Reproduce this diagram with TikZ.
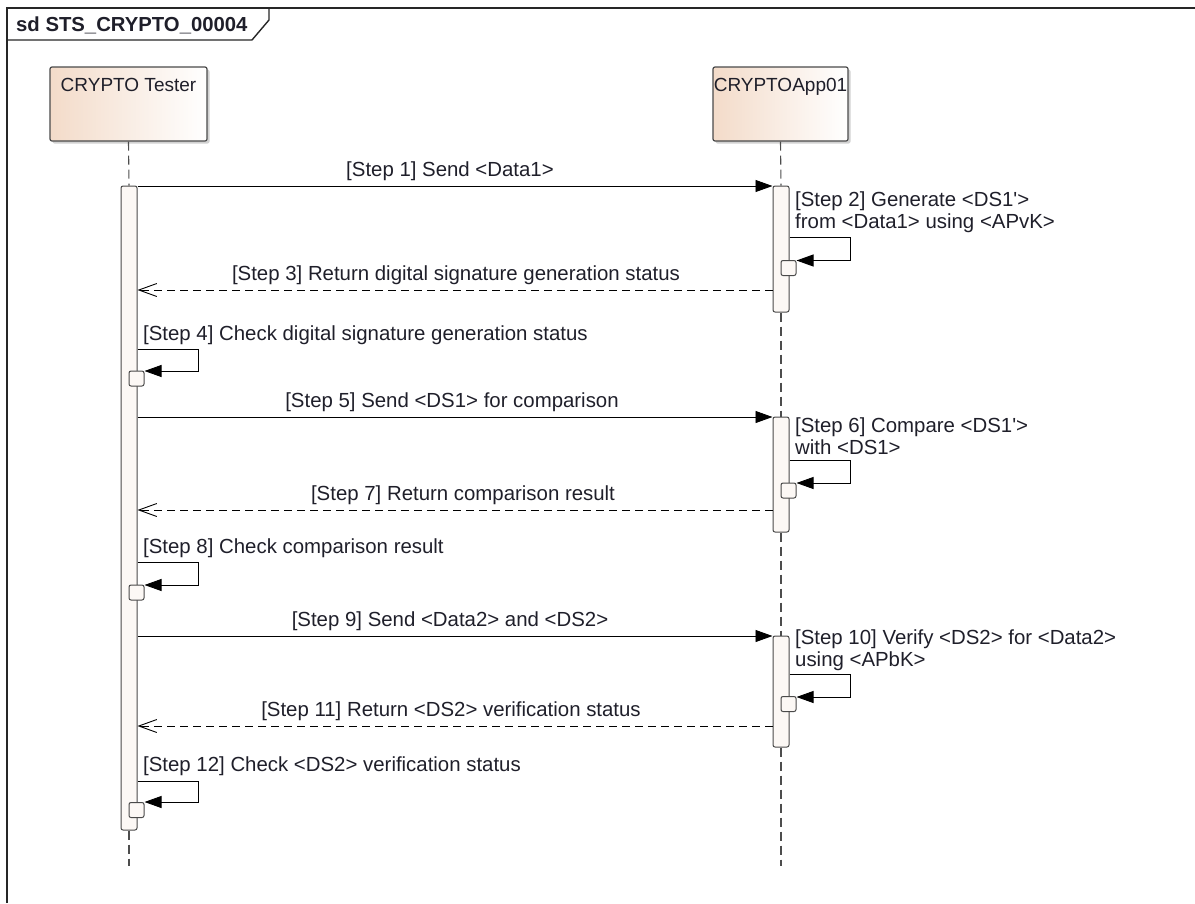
\documentclass[tikz,border=0pt]{standalone}
\usepackage{fontspec}
\setmainfont[Ligatures=TeXOff]{Liberation Sans}
\usetikzlibrary{arrows.meta,shadows,calc}
\definecolor{ink}{HTML}{1F1F2A}
\definecolor{peach}{HTML}{F3DBC9}
\definecolor{barfill}{HTML}{FCF8F5}
\definecolor{edge}{HTML}{4A4A4A}
\definecolor{lifegray}{HTML}{4D4D4D}
\begin{document}
\begin{tikzpicture}[x=1pt,y=-1pt,
  txt/.style={font=\fontsize{20.4}{22}\selectfont, text=ink, inner sep=0pt},
  headtxt/.style={font=\fontsize{19}{22}\selectfont, text=ink, inner sep=0pt},
  head/.style={draw=edge, line width=1.2pt, rounded corners=2pt, left color=peach, right color=white,
    minimum height=74pt, inner sep=0pt,
    drop shadow={shadow xshift=2.5pt, shadow yshift=-2.5pt, fill=black!40, opacity=0.45}},
  actbar/.style={draw=edge, line width=1pt, fill=barfill, rounded corners=2pt, minimum width=16pt, inner sep=0pt},
  smallbox/.style={draw=edge, line width=1pt, fill=barfill, rounded corners=2pt, minimum width=15pt, minimum height=15pt, inner sep=0pt},
  life/.style={draw=lifegray, line width=1.1pt, dash pattern=on 9pt off 5pt},
  msg/.style={draw=black, line width=0.9pt, -{Triangle[length=17pt,width=12pt]}},
  ret/.style={draw=black, line width=0.9pt, dash pattern=on 8pt off 5pt, -{Straight Barb[length=18pt,width=13pt,line width=0.9pt]}},
  selfmsg/.style={draw=black, line width=0.9pt, -{Triangle[length=17pt,width=12pt]}},
  frameline/.style={draw=black!85, line width=1.4pt}
]
\useasboundingbox (0,0) rectangle (1195,903);

% frame
\draw[frameline] (7,903) -- (7,8) -- (1195,8);
\draw[frameline] (7,40) -- (252,40) -- (269,20) -- (269,8);
\node[txt, font=\fontsize{20.3}{22}\selectfont\bfseries, anchor=base west] (title) at (16,31) {sd STS\_CRYPTO\_00004};

% lifeline heads
\node[head, minimum width=157pt] (tester) at (128.5,104) {};
\node[headtxt, anchor=base] (testername) at (tester.north |- 0,91) {CRYPTO Tester};
\node[head, minimum width=135pt] (app) at (780.5,104) {};
\node[headtxt, anchor=base] (appname) at (app.north |- 0,91) {CRYPTOApp01};

% activation bars
\node[actbar, minimum height=644pt] (tbar) at (129,508) {};
\node[actbar, minimum height=126pt] (a1) at (781,249) {};
\node[actbar, minimum height=115pt] (a2) at (781,474.5) {};
\node[actbar, minimum height=111pt] (a3) at (781,691.5) {};

% lifelines
\coordinate (tend) at (129,866);
\coordinate (aend) at (781,866);
\draw[life] (tester.south) -- (tbar.north);
\draw[life] (tbar.south) -- (tend);
\draw[life] (app.south) -- (a1.north);
\draw[life] (a1.south) -- (a2.north);
\draw[life] (a2.south) -- (a3.north);
\draw[life] (a3.south) -- (aend);

% small execution boxes
\node[smallbox] (s2) at (788.5,268) {};
\node[smallbox] (s4) at (136.5,378.5) {};
\node[smallbox] (s6) at (788.5,490.5) {};
\node[smallbox] (s8) at (136.5,592.5) {};
\node[smallbox] (s10) at (788.5,704) {};
\node[smallbox] (s12) at (136.5,810) {};

% Step 1
\draw[msg] (tbar.east |- 0,186) -- (a1.west |- 0,186);
\node[txt, anchor=base] (l1) at (450,176) {[Step 1] Send <Data1>};
% Step 2
\draw[selfmsg] (a1.east |- 0,237.5) -- (850,237.5) -- (850,260.5) -- (s2.east |- 0,260.5);
\node[txt, anchor=base west, align=left] (l2) at (795,228) {[Step 2] Generate <DS1'>\\from <Data1> using <APvK>};
% Step 3
\draw[ret] (a1.west |- 0,290) -- (tbar.east |- 0,290);
\node[txt, anchor=base] (l3) at (456,280) {[Step 3] Return digital signature generation status};
% Step 4
\draw[selfmsg] (tbar.east |- 0,349) -- (198,349) -- (198,371) -- (s4.east |- 0,371);
\node[txt, anchor=base west] (l4) at (143,340) {[Step 4] Check digital signature generation status};
% Step 5
\draw[msg] (tbar.east |- 0,417) -- (a2.west |- 0,417);
\node[txt, anchor=base] (l5) at (452,407) {[Step 5] Send <DS1> for comparison};
% Step 6
\draw[selfmsg] (a2.east |- 0,460) -- (850,460) -- (850,483) -- (s6.east |- 0,483);
\node[txt, anchor=base west, align=left] (l6) at (795,454) {[Step 6] Compare <DS1'>\\with <DS1>};
% Step 7
\draw[ret] (a2.west |- 0,510) -- (tbar.east |- 0,510);
\node[txt, anchor=base] (l7) at (463,500) {[Step 7] Return comparison result};
% Step 8
\draw[selfmsg] (tbar.east |- 0,562) -- (198,562) -- (198,585) -- (s8.east |- 0,585);
\node[txt, anchor=base west] (l8) at (143,553) {[Step 8] Check comparison result};
% Step 9
\draw[msg] (tbar.east |- 0,636) -- (a3.west |- 0,636);
\node[txt, anchor=base] (l9) at (450,626) {[Step 9] Send <Data2> and <DS2>};
% Step 10
\draw[selfmsg] (a3.east |- 0,674) -- (850,674) -- (850,697) -- (s10.east |- 0,697);
\node[txt, anchor=base west, align=left] (l10) at (795,666) {[Step 10] Verify <DS2> for <Data2>\\using <APbK>};
% Step 11
\draw[ret] (a3.west |- 0,726) -- (tbar.east |- 0,726);
\node[txt, anchor=base] (l11) at (451,716) {[Step 11] Return <DS2> verification status};
% Step 12
\draw[selfmsg] (tbar.east |- 0,781) -- (198,781) -- (198,802) -- (s12.east |- 0,802);
\node[txt, anchor=base west] (l12) at (143,771) {[Step 12] Check <DS2> verification status};
\end{tikzpicture}
\end{document}
